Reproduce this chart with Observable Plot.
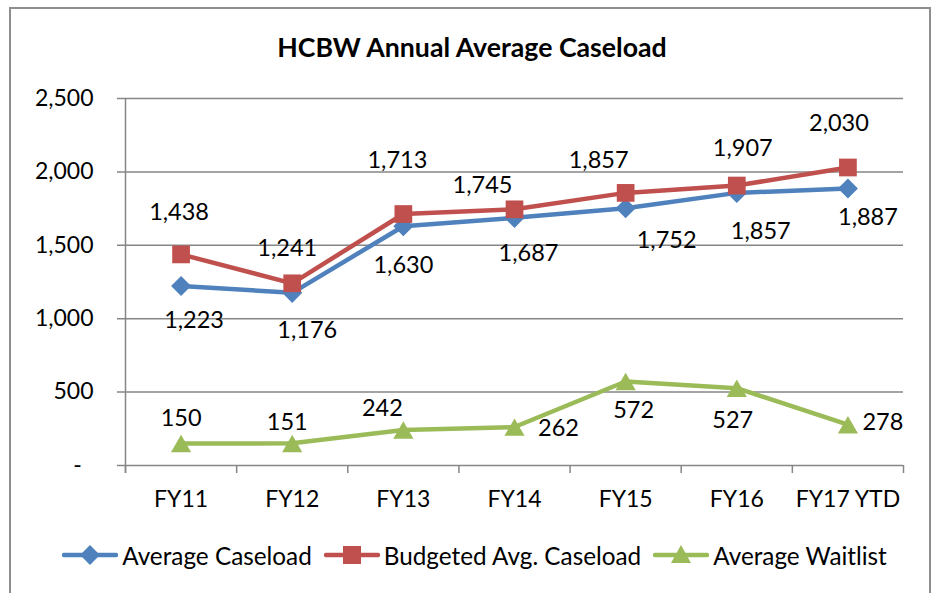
<!DOCTYPE html>
<html><head><meta charset="utf-8">
<script src="https://cdn.jsdelivr.net/npm/d3@7"></script>
<script src="https://cdn.jsdelivr.net/npm/@observablehq/plot@0.6"></script>
<style>
body{margin:0;background:#fff;}
#wrap{position:relative;width:939px;height:593px;overflow:hidden;font-family:Lato,sans-serif;color:#000;}
#frame{position:absolute;left:9px;top:7px;width:922px;height:620px;border:2px solid #8e8e8e;box-sizing:border-box;}
#chart{position:absolute;left:0;top:0;}
#title{position:absolute;left:0;width:944px;top:30px;text-align:center;font-weight:bold;font-size:26.7px;line-height:34px;}
#legend{position:absolute;left:0;width:949px;top:540px;height:30px;display:flex;justify-content:center;align-items:center;font-size:24.3px;}
#legend .item{display:flex;align-items:center;margin:0 6px;}
#legend svg{margin-right:4px;}
</style></head><body>
<div id="wrap"><div id="frame"></div><div id="chart"></div><div id="title">HCBW Annual Average Caseload</div><div id="legend"></div></div>
<script>
const categories = ["FY11","FY12","FY13","FY14","FY15","FY16","FY17 YTD"];
const averageCaseload = [1223,1176,1630,1687,1752,1857,1887];
const budgetedCaseload = [1438,1241,1713,1745,1857,1907,2030];
const averageWaitlist = [150,151,242,262,572,527,278];
const yTicks = [0,500,1000,1500,2000,2500];
const seriesNames = ["Average Caseload","Budgeted Avg. Caseload","Average Waitlist"];
const seriesColors = ["#4F81BD","#C0504D","#9BBB59"];

// label placement (layout only): [dx, dy] per point
const avgLabelOffsets = [[13,35],[15,38],[0,39],[14,36],[41,32],[24,39],[20,29]];
const budLabelOffsets = [[-2,-42],[-5,-35],[-6,-54],[-32,-24],[-27,-32],[6,-37],[-9,-44]];
const waitLabelOffsets = [[0,-25],[-5,-21],[-21,-22],[44,1],[8,29],[-4,32],[35,-2]];

const fmt = d3.format(",");
const series = [
  {name: seriesNames[0], values: averageCaseload, color: seriesColors[0], offsets: avgLabelOffsets, symbol: "square", r: 8, rotate: 45, dy: 0},
  {name: seriesNames[1], values: budgetedCaseload, color: seriesColors[1], offsets: budLabelOffsets, symbol: "square", r: 10, rotate: 0, dy: 0},
  {name: seriesNames[2], values: averageWaitlist, color: seriesColors[2], offsets: waitLabelOffsets, symbol: "triangle", r: 7.5, rotate: 0, dy: 3}
];

const grid = "#868686";
const boundaries = d3.range(categories.length + 1).map(i => i - 0.5);
const marks = [
  Plot.ruleY(yTicks, {stroke: grid, strokeWidth: 1.5, insetLeft: -8}),
  Plot.ruleX([-0.5], {stroke: grid, strokeWidth: 1.5, insetBottom: -8}),
  Plot.ruleX(boundaries, {y1: 0, y2: 0, stroke: grid, strokeWidth: 1.5, insetBottom: -8}),
  Plot.axisY({ticks: yTicks, tickSize: 0, tickPadding: 32, fontSize: 23, fill: "#000",
    tickFormat: d => d === 0 ? "-\u00a0\u00a0" : fmt(d), label: null}),
  Plot.axisX({ticks: d3.range(categories.length), tickSize: 0, tickPadding: 25, fontSize: 23, fill: "#000",
    tickFormat: i => categories[i], label: null})
];
for (const s of series) {
  const rows = s.values.map((v, i) => ({i, v}));
  marks.push(Plot.line(rows, {x: "i", y: "v", stroke: s.color, strokeWidth: 4.5, strokeLinejoin: "round", strokeLinecap: "round"}));
  marks.push(Plot.dot(rows, {x: "i", y: "v", symbol: s.symbol, r: s.r, rotate: s.rotate, fill: s.color, stroke: "none", dy: s.dy}));
}
for (const s of series) {
  s.values.forEach((v, i) => {
    marks.push(Plot.text([{i, v}], {x: "i", y: "v", text: d => fmt(d.v), dx: s.offsets[i][0], dy: s.offsets[i][1],
      fontSize: 23.5, fill: "#000", textAnchor: "middle", lineAnchor: "middle"}));
  });
}

const chart = Plot.plot({
  width: 939, height: 593,
  marginLeft: 125, marginRight: 36, marginTop: 98, marginBottom: 128,
  style: {fontFamily: "Lato, sans-serif", background: "transparent", overflow: "visible"},
  x: {domain: [-0.5, 6.5], axis: null},
  y: {domain: [0, 2500], axis: null},
  marks
});
document.getElementById("chart").appendChild(chart);

// legend
const legend = document.getElementById("legend");
series.forEach(s => {
  const item = document.createElement("div");
  item.className = "item";
  let marker;
  if (s.symbol === "triangle") marker = `<path d="M28,2 L38,20 L18,20 Z" fill="${s.color}"/>`;
  else if (s.rotate) marker = `<rect x="21" y="5" width="14" height="14" fill="${s.color}" transform="rotate(45 28 12)"/>`;
  else marker = `<rect x="19" y="3" width="18" height="18" fill="${s.color}"/>`;
  item.innerHTML = `<svg width="56" height="24"><line x1="2" x2="54" y1="12" y2="12" stroke="${s.color}" stroke-width="4.5" stroke-linecap="round"/>${marker}</svg><span>${s.name}</span>`;
  legend.appendChild(item);
});
</script>
</body></html>
